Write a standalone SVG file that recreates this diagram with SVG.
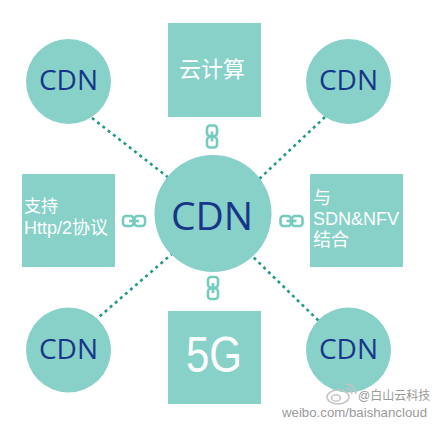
<svg xmlns="http://www.w3.org/2000/svg" xmlns:xlink="http://www.w3.org/1999/xlink" width="436" height="427" viewBox="0 0 436 427">
  <style>
    .shape { fill: #87d1c8; }
    .cdn { fill: #17368a; font-family: "Open Sans", "Liberation Sans", sans-serif; text-anchor: middle; }
    .white { fill: #ffffff; font-family: "Liberation Sans", "Noto Sans CJK SC", sans-serif; }
    .conn { stroke: #1f9a86; stroke-width: 2.6; stroke-dasharray: 3 3.7; fill: none; }
    .chain { stroke: #76cbbf; stroke-width: 2.6; fill: none; }
    .wm { fill: #9a9a9a; font-family: "Liberation Sans", "Noto Sans CJK SC", sans-serif; }
  </style>
  <defs>
    <g id="chain">
      <rect x="-5" y="-11" width="10" height="10.5" rx="3" class="chain"/>
      <rect x="-5" y="0.5" width="10" height="10.5" rx="3" class="chain"/>
      <line x1="0" y1="-5" x2="0" y2="5" class="chain" stroke-width="2"/>
    </g>
  </defs>
  <rect width="436" height="427" fill="#ffffff"/>

  <g id="connectors">
    <line class="conn" x1="92" y1="118" x2="174" y2="182"/>
    <line class="conn" x1="325" y1="117" x2="257" y2="181"/>
    <line class="conn" x1="173" y1="253" x2="92" y2="323"/>
    <line class="conn" x1="249" y1="253" x2="325" y2="327"/>
    <use xlink:href="#chain" href="#chain" transform="translate(212,136.5)"/>
    <use xlink:href="#chain" href="#chain" transform="translate(213,288)"/>
    <use xlink:href="#chain" href="#chain" transform="translate(134,221) rotate(90)"/>
    <use xlink:href="#chain" href="#chain" transform="translate(291.5,221) rotate(90)"/>
  </g>

  <g id="cdn-center">
    <circle class="shape" cx="213" cy="213.5" r="58.5"/>
    <text class="cdn" x="212" y="230" font-size="39">CDN</text>
  </g>
  <g id="cdn-top-left">
    <circle class="shape" cx="68.5" cy="81.5" r="42.5"/>
    <text class="cdn" x="68.5" y="90" font-size="28">CDN</text>
  </g>
  <g id="cdn-top-right">
    <circle class="shape" cx="348.5" cy="81.5" r="42.5"/>
    <text class="cdn" x="348.5" y="90" font-size="28">CDN</text>
  </g>
  <g id="cdn-bottom-left">
    <circle class="shape" cx="68.5" cy="350" r="42.5"/>
    <text class="cdn" x="68.5" y="358.5" font-size="28">CDN</text>
  </g>
  <g id="cdn-bottom-right">
    <circle class="shape" cx="348.5" cy="350" r="42.5"/>
    <text class="cdn" x="348.5" y="358.5" font-size="28">CDN</text>
  </g>

  <g id="cloud">
    <rect class="shape" x="168" y="23" width="93" height="94"/>
    <text class="white" x="212" y="77" font-size="22" text-anchor="middle">云计算</text>
  </g>
  <g id="fiveg">
    <rect class="shape" x="168" y="311" width="93" height="93"/>
    <text class="white" x="214" y="372" font-size="50" text-anchor="middle" textLength="56" lengthAdjust="spacingAndGlyphs">5G</text>
  </g>
  <g id="http2">
    <rect class="shape" x="22" y="174" width="93" height="93"/>
    <text class="white" x="24" y="212" font-size="17">支持</text>
    <text class="white" x="24" y="234" font-size="18">Http/2协议</text>
  </g>
  <g id="sdn">
    <rect class="shape" x="310" y="174" width="93" height="93"/>
    <text class="white" x="313" y="204" font-size="18">与</text>
    <text class="white" x="313" y="225" font-size="18">SDN&amp;NFV</text>
    <text class="white" x="313" y="246" font-size="18">结合</text>
  </g>

  <g id="watermark">
    <g fill="none" stroke="#c4c4c4" stroke-width="1.5">
      <ellipse cx="338" cy="397" rx="11" ry="7"/>
      <ellipse cx="336" cy="398" rx="4.5" ry="3.2"/>
      <path d="M 346 388 A 6 6 0 0 1 352 394"/>
      <path d="M 346 384 A 10 10 0 0 1 356 394"/>
    </g>
    <text class="wm" x="358" y="400" font-size="12">@白山云科技</text>
    <text class="wm" x="282" y="417" font-size="13" textLength="145" lengthAdjust="spacingAndGlyphs">weibo.com/baishancloud</text>
  </g>
</svg>
